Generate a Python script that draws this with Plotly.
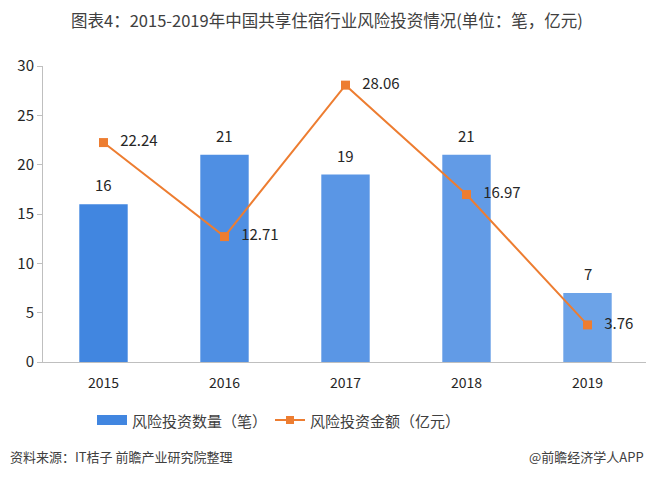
import plotly.graph_objects as go

years = ["2015", "2016", "2017", "2018", "2019"]
deal_counts = [16, 21, 19, 21, 7]
deal_amounts = [22.24, 12.71, 28.06, 16.97, 3.76]
bar_colors = ["#4186E0", "#4F8FE3", "#5A96E5", "#629BE6", "#6CA3E8"]
y_ticks = [0, 5, 10, 15, 20, 25, 30]

FONT = "Noto Sans CJK SC, Microsoft YaHei, sans-serif"
ORANGE = "#ED7D31"
TXT = "#262626"

# page body has an 8px default margin -> shrink the figure and shift coords
OFF = 8
W, H = 654 - OFF, 477 - 2 * OFF
L, R, T, B = 43 - OFF, 6, 66 - OFF, 115 - OFF
PW, PH = W - L - R, H - T - B


def px(x):
    return (x - OFF - L) / PW


def py(y):
    return (H - B - (y - OFF)) / PH


fig = go.Figure()

fig.add_trace(go.Bar(
    x=years, y=deal_counts, name="风险投资数量（笔）",
    marker=dict(color=bar_colors, line_width=0), width=0.4,
    hoverinfo="x+y"))

# bar value labels (category index on the x axis)
for i, v in enumerate(deal_counts):
    fig.add_annotation(x=i, y=v, text=str(v), showarrow=False,
                       yanchor="bottom", yshift=7,
                       font=dict(size=15, color=TXT, family=FONT))

fig.add_trace(go.Scatter(
    x=years, y=deal_amounts, name="风险投资金额（亿元）",
    mode="lines+markers+text",
    line=dict(color=ORANGE, width=2),
    marker=dict(color=ORANGE, symbol="square", size=9),
    text=["   " + f"{v:.2f}" for v in deal_amounts],
    textposition="middle right", cliponaxis=False,
    textfont=dict(size=15, color=TXT, family=FONT)))

# ── manual legend ────────────────────────────────────────────────────────────
fig.add_shape(type="rect", xref="paper", yref="paper",
              x0=px(97), x1=px(127), y0=py(425), y1=py(415),
              fillcolor="#4186E0", line_width=0)
fig.add_annotation(xref="paper", yref="paper", x=px(130), y=py(420),
                   text="风险投资数量（笔）", showarrow=False,
                   xanchor="left", yanchor="middle",
                   font=dict(size=15, color="#404040", family=FONT))
fig.add_shape(type="line", xref="paper", yref="paper",
              x0=px(275), x1=px(305), y0=py(420), y1=py(420),
              line=dict(color=ORANGE, width=2))
fig.add_shape(type="rect", xref="paper", yref="paper",
              x0=px(286), x1=px(294), y0=py(424), y1=py(416),
              fillcolor=ORANGE, line_width=0)
fig.add_annotation(xref="paper", yref="paper", x=px(308), y=py(420),
                   text="风险投资金额（亿元）", showarrow=False,
                   xanchor="left", yanchor="middle",
                   font=dict(size=15, color="#404040", family=FONT))

# ── title & footer ───────────────────────────────────────────────────────────
fig.add_annotation(xref="paper", yref="paper", x=px(327), y=py(20),
                   text="图表4：2015-2019年中国共享住宿行业风险投资情况(单位：笔，亿元)",
                   showarrow=False, xanchor="center", yanchor="middle",
                   font=dict(size=16.5, color="#404040", family=FONT))
fig.add_annotation(xref="paper", yref="paper", x=px(8), y=py(456),
                   text="资料来源：IT桔子 前瞻产业研究院整理", showarrow=False,
                   xanchor="left", yanchor="middle",
                   font=dict(size=13, color="#404040", family=FONT))
fig.add_annotation(xref="paper", yref="paper", x=px(646), y=py(456),
                   text="@前瞻经济学人APP", showarrow=False,
                   xanchor="right", yanchor="middle",
                   font=dict(size=13, color="#404040", family=FONT))

fig.update_layout(
    width=W, height=H, showlegend=False,
    paper_bgcolor="white", plot_bgcolor="white",
    margin=dict(l=L, r=R, t=T, b=B, pad=0),
    font=dict(family=FONT, color=TXT),
)
fig.update_yaxes(range=[0, 30], tickvals=y_ticks, showgrid=False,
                 zeroline=False, showline=True, linecolor="#BFBFBF",
                 linewidth=1, ticks="outside", ticklen=5, tickcolor="#BFBFBF",
                 tickfont=dict(size=15, color=TXT, family=FONT))
fig.update_xaxes(type="category", range=[-0.5, 4.5], showgrid=False,
                 showline=True, linecolor="#BFBFBF", linewidth=1, ticks="",
                 ticklabelstandoff=8,
                 tickfont=dict(size=14, color=TXT, family=FONT))

fig.write_html("out.html")
